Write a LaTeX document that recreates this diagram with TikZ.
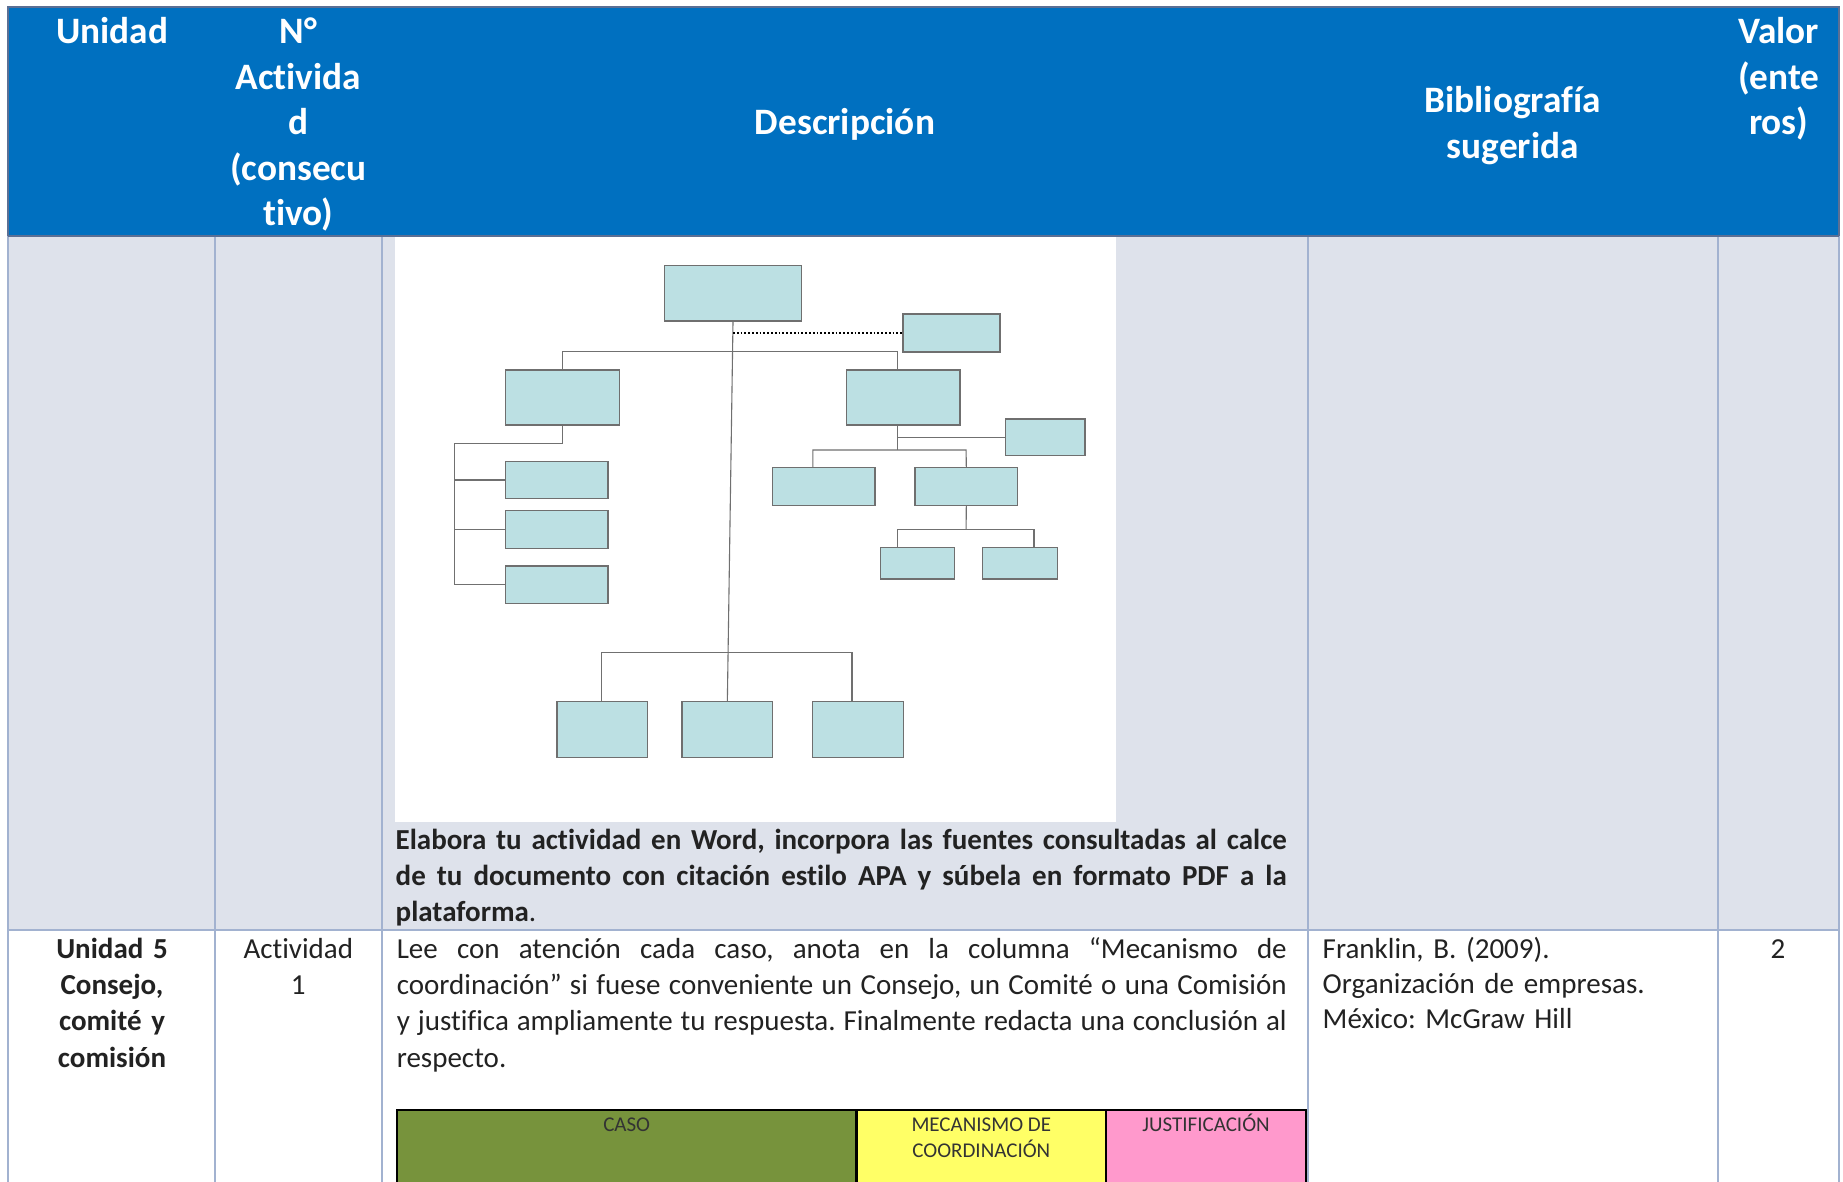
\documentclass[tikz,border=0pt]{standalone}
\usepackage{fontspec}
\setmainfont{Carlito}[Ligatures={NoCommon}]
\definecolor{hdrblue}{HTML}{0070C0}
\definecolor{hdrline}{HTML}{5B6F94}
\definecolor{gridline}{HTML}{A2B2D0}
\definecolor{cellgray}{HTML}{DEE2EB}
\definecolor{boxfill}{HTML}{BCE0E3}
\definecolor{boxline}{HTML}{6F6F6F}
\definecolor{connline}{HTML}{707070}
\definecolor{casogreen}{HTML}{77933C}
\definecolor{mecyellow}{HTML}{FFFF66}
\definecolor{justpink}{HTML}{FF99CC}
\definecolor{bodytext}{HTML}{222222}
\frenchspacing
\begin{document}
\begin{tikzpicture}[x=1pt,y=-1pt,
  orgbox/.style={draw=boxline, fill=boxfill, line width=1.2pt, inner sep=0pt},
  conn/.style={draw=connline, line width=1.1pt},
  dotline/.style={draw=black, line width=1.8pt, dotted},
  grid/.style={draw=gridline, line width=2pt},
  hdr/.style={text=white, font=\fontsize{37.3}{45.5}\selectfont\bfseries, inner sep=0pt, anchor=base},
  body/.style={text=bodytext, font=\fontsize{29}{36.3}\selectfont, inner sep=0pt, anchor=base},
  para/.style={text=bodytext, font=\fontsize{29}{36.3}\selectfont, inner sep=0pt, anchor=base west, align=justify},
  small/.style={text=black!80, font=\fontsize{21}{25.7}\selectfont, inner sep=0pt, anchor=base},
]
\useasboundingbox (0,0) rectangle (1843,1182);
% ---- backgrounds
\fill[white] (0,0) rectangle (1843,1182);
\fill[cellgray] (8,236) rectangle (1839,930);
\fill[white] (395,236) rectangle (1116,821.7);
\fill[white] (8,930) rectangle (1839,1182);
\fill[hdrblue] (8,7) rectangle (1839,236);
% ---- grid
\draw[grid] (214.7,236) -- (214.7,1182);
\draw[grid] (382,236) -- (382,1182);
\draw[grid] (1308,236) -- (1308,1182);
\draw[grid] (1717.5,236) -- (1717.5,1182);
\draw[grid] (8,930) -- (1839,930);
\draw[grid] (8,236) -- (8,1182);
\draw[grid] (1839,236) -- (1839,1182);
\draw[draw=hdrline, line width=2pt] (8,236) -- (8,7) -- (1839,7) -- (1839,236);
\draw[draw=hdrline, line width=2.4pt] (8,236) -- (1839,236);
% ---- header texts
\node[hdr] (hU) at (112,44) {Unidad};
\node[hdr] (hN1) at (298.3,44) {N°};
\node[hdr] (hN2) at (298.3,89.5) {Activida};
\node[hdr] (hN3) at (298.3,135) {d};
\node[hdr] (hN4) at (298.3,180.5) {(consecu};
\node[hdr] (hN5) at (298.3,226) {tivo)};
\node[hdr] (hD) at (845,135) {Descripción};
\node[hdr] (hB1) at (1512.7,112.5) {Bibliografía};
\node[hdr] (hB2) at (1512.7,158.5) {sugerida};
\node[hdr] (hV1) at (1778.7,44) {Valor};
\node[hdr] (hV2) at (1778.7,89.5) {(ente};
\node[hdr] (hV3) at (1778.7,135) {ros)};
% ---- org chart boxes
\node[orgbox, minimum width=136.8pt, minimum height=55.3pt] (T) at (733,293.35) {};
\node[orgbox, minimum width=97pt, minimum height=38pt] (S) at (951.5,333) {};
\node[orgbox, minimum width=114.2pt, minimum height=55pt] (L1) at (562.6,397.5) {};
\node[orgbox, minimum width=113.3pt, minimum height=55pt] (R1) at (903.35,397.5) {};
\node[orgbox, minimum width=102.5pt, minimum height=36.6pt] (LB1) at (556.75,480) {};
\node[orgbox, minimum width=102.5pt, minimum height=37.6pt] (LB2) at (556.75,529.5) {};
\node[orgbox, minimum width=102.5pt, minimum height=37.3pt] (LB3) at (556.75,584.65) {};
\node[orgbox, minimum width=79.7pt, minimum height=36.7pt] (RS) at (1045.15,437.35) {};
\node[orgbox, minimum width=102.4pt, minimum height=37.6pt] (RB1) at (823.8,486.5) {};
\node[orgbox, minimum width=102.6pt, minimum height=37.6pt] (RB2) at (966.3,486.5) {};
\node[orgbox, minimum width=74.1pt, minimum height=31.3pt] (RBB1) at (917.75,563.35) {};
\node[orgbox, minimum width=74.6pt, minimum height=31.3pt] (RBB2) at (1019.9,563.35) {};
\node[orgbox, minimum width=90.6pt, minimum height=56pt] (BB1) at (602.3,729.7) {};
\node[orgbox, minimum width=90.7pt, minimum height=56pt] (BB2) at (727.35,729.7) {};
\node[orgbox, minimum width=91pt, minimum height=56pt] (BB3) at (857.9,729.7) {};
% ---- org chart connectors
\coordinate (dj) at (733,333);
\coordinate (b1l) at (562.6,351.7);
\coordinate (b1r) at (897.2,351.7);
\coordinate (lv) at (454.6,443.3);
\coordinate (rj) at (897.2,450);
\coordinate (r2l) at (812.8,450);
\coordinate (r2r) at (966.1,450);
\coordinate (r3) at (966.1,529.7);
\coordinate (r3l) at (897.2,529.7);
\coordinate (r3r) at (1034,529.7);
\coordinate (bl) at (601.8,652.3);
\coordinate (br) at (852,652.3);
\draw[conn] (T.south) -- (BB2.north);
\draw[dotline] (dj) -- (S.west);
\draw[conn] (L1.north) -- (b1l) -- (b1r) -- (R1.north -| b1r);
\draw[conn] (L1.south) |- (lv) |- (LB3.west);
\draw[conn] (LB1.west) -- (LB1.west -| lv);
\draw[conn] (LB2.west) -- (LB2.west -| lv);
\draw[conn] (R1.south -| rj) -- (rj);
\draw[conn] (RS.west) -- (RS.west -| rj);
\draw[conn] (RB1.north -| r2l) -- (r2l) -- (r2r) -- (RB2.north);
\draw[conn] (RB2.south) -- (r3);
\draw[conn] (RBB1.north -| r3l) -- (r3l) -- (r3r) -- (RBB2.north -| r3r);
\draw[conn] (BB1.north -| bl) -- (bl) -- (br) -- (BB3.north -| br);
% ---- row 1 text
\node[para, text width=891pt] (elab) at (395.5,849.3) {\bfseries Elabora tu actividad en Word, incorpora las fuentes consultadas al calce\linebreak de tu documento con citación estilo APA y súbela en formato PDF a la\linebreak plataforma{\mdseries .}};
% ---- row 2 texts
\node[body, text width=200pt, align=center] (u5) at (112,958.3) {\bfseries Unidad 5\\Consejo,\\comité y\\comisión};
\node[body, text width=160pt, align=center] (act) at (298.3,958.3) {Actividad\\1};
\node[para, text width=890pt] (lee) at (396.6,958.3) {Lee con atención cada caso, anota en la columna “Mecanismo de\linebreak coordinación” si fuese conveniente un Consejo, un Comité o una Comisión\linebreak y justifica ampliamente tu respuesta. Finalmente redacta una conclusión al\linebreak respecto.};
\node[body, anchor=base west, text width=380pt, align=left, font=\fontsize{29}{35}\selectfont] (bib) at (1322.5,958.3) {Franklin, B. (2009).\\Organización de empresas.\\México: McGraw Hill};
\node[body] (val) at (1778,958.3) {2};
% ---- embedded table
\fill[casogreen] (396.8,1110) rectangle (856.6,1190);
\fill[mecyellow] (856.6,1110) rectangle (1106,1190);
\fill[justpink] (1106,1110) rectangle (1306.2,1190);
\draw[black, line width=2.5pt] (396.8,1190) -- (396.8,1110) -- (1306.2,1110) -- (1306.2,1190);
\draw[black, line width=2.5pt] (856.6,1110) -- (856.6,1190);
\draw[black, line width=2.5pt] (1106,1110) -- (1106,1190);
\node[small] (caso) at (626.7,1131.7) {CASO};
\node[small] (mec1) at (981.3,1131.7) {MECANISMO DE};
\node[small] (mec2) at (981.3,1157.4) {COORDINACIÓN};
\node[small] (just) at (1206.1,1131.7) {JUSTIFICACIÓN};
\end{tikzpicture}
\end{document}
